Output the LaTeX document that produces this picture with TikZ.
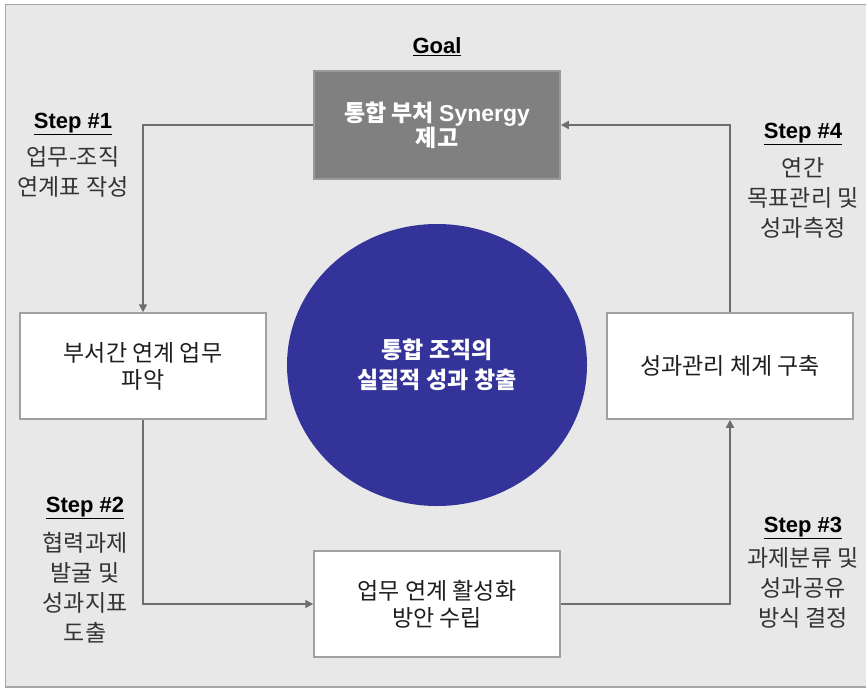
\documentclass[tikz,border=0pt]{standalone}
\usepackage{fontspec}
\setmainfont{Liberation Sans}
\newfontfamily\kr{Noto Sans CJK KR}
\usetikzlibrary{arrows.meta,shapes.geometric}

\definecolor{panel}{HTML}{E8E8E8}
\definecolor{frameline}{HTML}{A6A6A6}
\definecolor{boxline}{HTML}{A0A0A0}
\definecolor{goalgray}{HTML}{808080}
\definecolor{goalline}{HTML}{9A9A9A}
\definecolor{coreblue}{HTML}{333399}
\definecolor{wire}{HTML}{6E6E6E}
\definecolor{txt}{HTML}{1E1E1E}
\definecolor{desc}{HTML}{333333}

\tikzset{
  box/.style={draw=boxline, line width=1.5pt, fill=white,
    minimum width=246pt, minimum height=106pt, inner sep=0pt,
    align=center, text=txt, font=\kr\fontsize{23}{27}\selectfont},
  goalbox/.style={box, fill=goalgray, draw=goalline, minimum height=108pt,
    text=white, font=\kr\bfseries\fontsize{23}{25}\selectfont},
  core/.style={ellipse, fill=coreblue, minimum width=300pt, minimum height=282pt,
    inner sep=0pt, align=center, text=white,
    font=\kr\bfseries\fontsize{23}{30}\selectfont},
  steptitle/.style={inner sep=0pt, text=black, font=\bfseries\fontsize{22}{24}\selectfont},
  stepdesc/.style={inner sep=0pt, align=center, text=desc,
    font=\kr\fontsize{23}{30}\selectfont},
  conn/.style={draw=wire, line width=1.5pt,
    -{Triangle[length=8pt,width=8pt]}},
}

\begin{document}
\begin{tikzpicture}[x=1pt,y=-1pt]
  % canvas and panel
  \useasboundingbox (0,0) rectangle (866,688);
  \fill[white] (0,0) rectangle (866,688);
  \draw[frameline, fill=panel, line width=1.5pt] (5.5,4.5) rectangle (880,687);

  % goal
  \node[steptitle] (goaltitle) at (437,47) {\underline{Goal}};
  \node[goalbox] (goal) at (437,125) {통합 부처 {\rmfamily Synergy}\\제고};

  % process boxes
  \node[box] (lbox) at (143,366) {부서간 연계 업무\\파악};
  \node[box] (rbox) at (730,366) {성과관리 체계 구축};
  \node[box] (bbox) at (437,604) {업무 연계 활성화\\방안 수립};

  % central outcome
  \node[core] (core) at (437,365) {통합 조직의\\실질적 성과 창출};

  % cycle connectors
  \draw[conn] (goal.west) -| (lbox.north);
  \draw[conn] (lbox.south) |- (bbox.west);
  \draw[conn] (bbox.east) -| (rbox.south);
  \draw[conn] (rbox.north) |- (goal.east);

  % step captions
  \node[steptitle] (s1t) at (73,124) {\underline{Step \#1}};
  \node[stepdesc] (s1d) at (73,172) {업무-조직\\연계표 작성};

  \node[steptitle] (s2t) at (85,508) {\underline{Step \#2}};
  \node[stepdesc] (s2d) at (85,588) {협력과제\\발굴 및\\성과지표\\도출};

  \node[steptitle] (s3t) at (803,528) {\underline{Step \#3}};
  \node[stepdesc] (s3d) at (803,588) {과제분류 및\\성과공유\\방식 결정};

  \node[steptitle] (s4t) at (803,134) {\underline{Step \#4}};
  \node[stepdesc] (s4d) at (803,198) {연간\\목표관리 및\\성과측정};
\end{tikzpicture}
\end{document}
